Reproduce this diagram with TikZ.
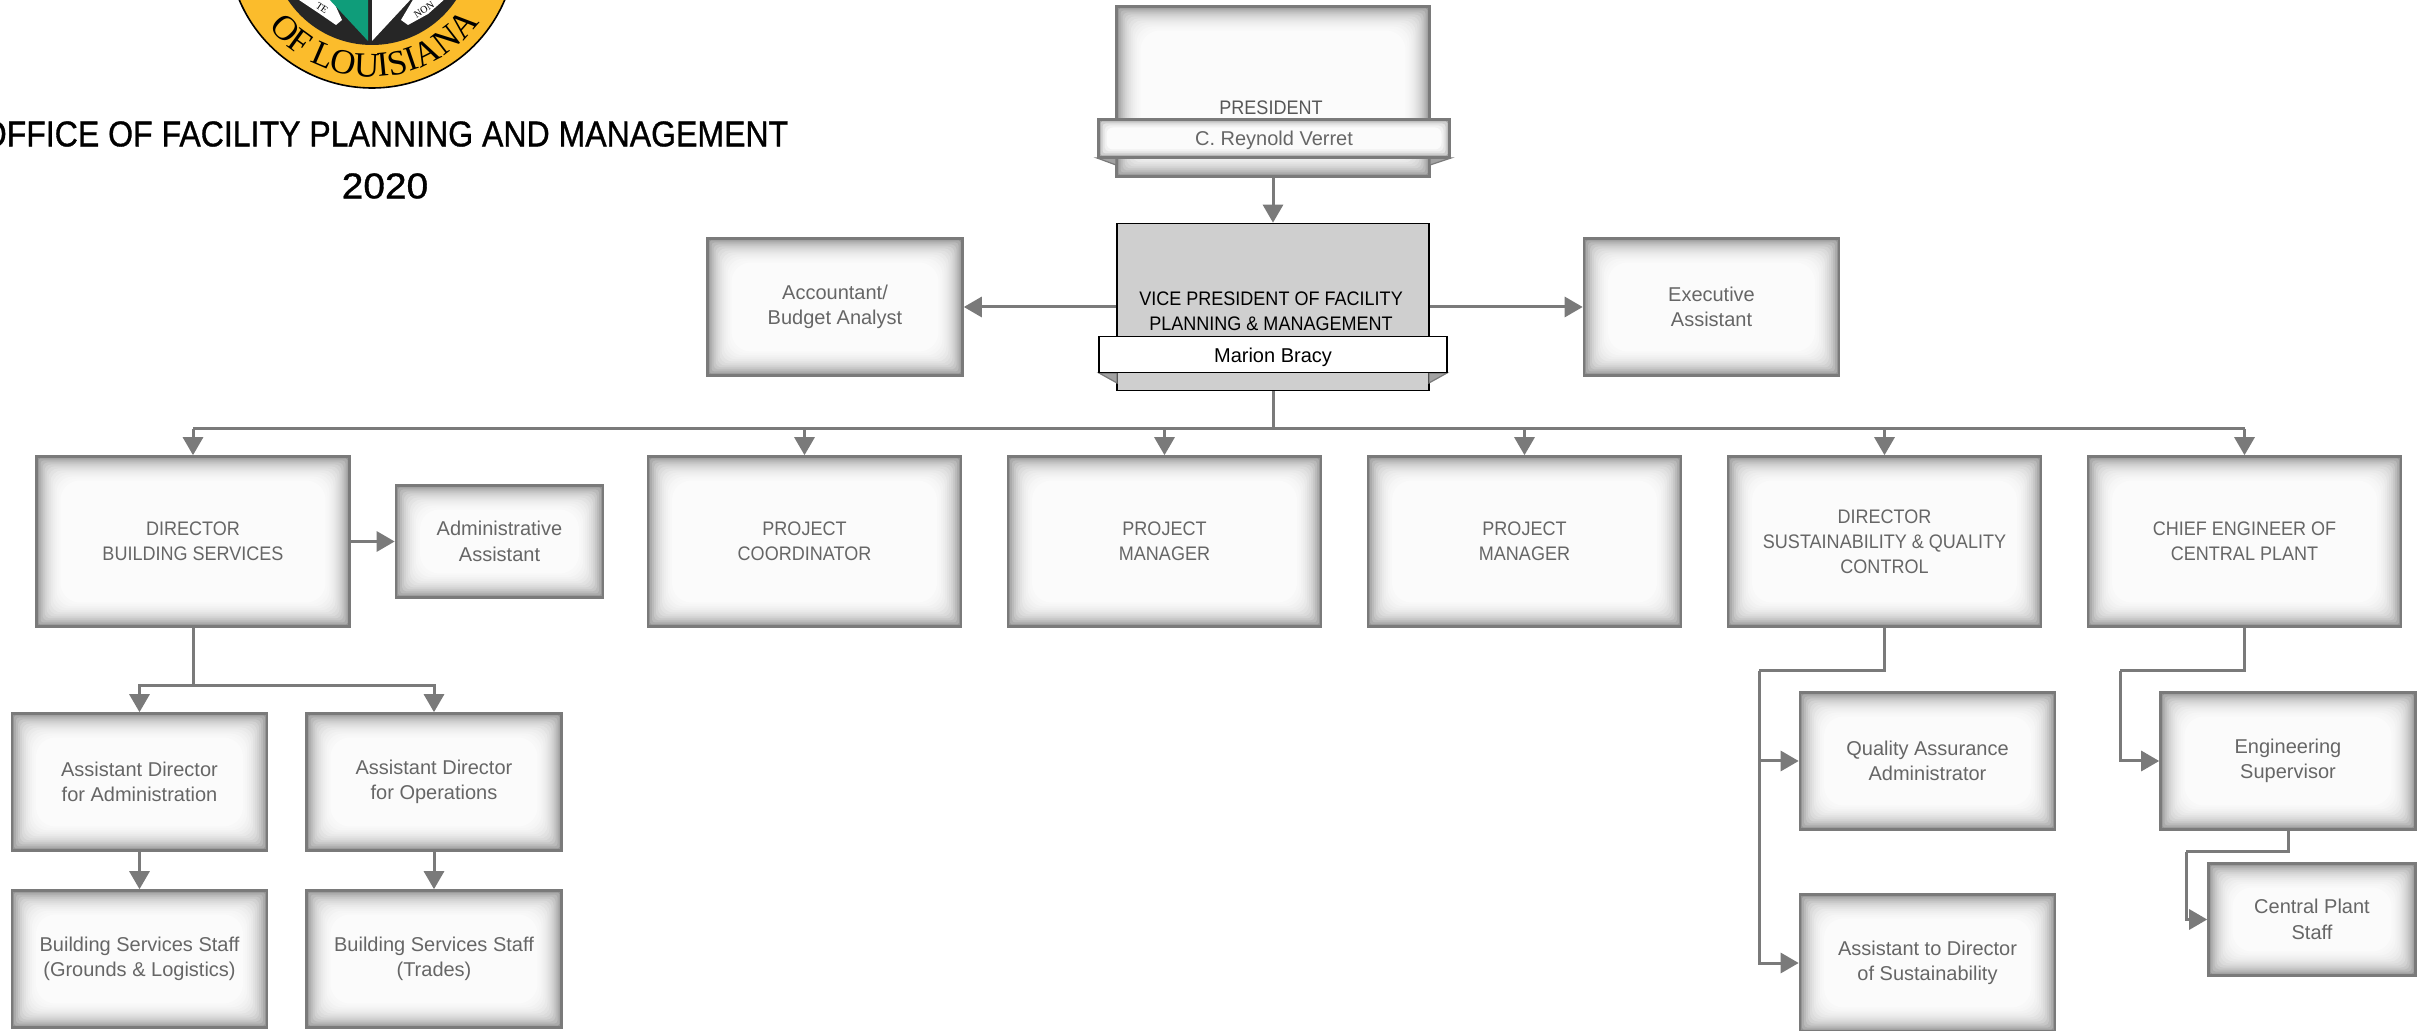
\documentclass[tikz,border=0pt]{standalone}
\usepackage{fontspec}
\usetikzlibrary{arrows.meta,decorations.text}
\setmainfont{Liberation Sans}
\newfontfamily\capsfont[FakeStretch=0.92]{Liberation Sans}
\newfontfamily\mixedfont{Liberation Sans}
\newfontfamily\titlefont[FakeStretch=0.89,FakeBold=0.9]{Liberation Sans}
\newfontfamily\yearfont[FakeStretch=1.08,FakeBold=0.9]{Liberation Sans}
\newfontfamily\sealfont{Liberation Serif}
\definecolor{boxedge}{HTML}{7A7A7A}
\definecolor{boxfill}{HTML}{FBFBFB}
\definecolor{boxtext}{HTML}{666666}
\definecolor{vpfill}{HTML}{CFCFCF}
\definecolor{sealgold}{HTML}{FBBC2C}
\definecolor{sealgreen}{HTML}{0F9D7A}
\def\boxglow{0/20,1/38,2/50,3/60,4/68,5/75,6/81,7/86,8/90,9/93,10/96,11/98,12/100}
\def\bannerglow{0/35,1/65,2/82,3/92,4/100}
\tikzset{
	wh/.style 2 args={minimum width=#1*0.5pt, minimum height=#2*0.5pt},
	glow/.style={path picture={
		\foreach \inset/\pct in #1 {
			\fill[boxfill!\pct!boxedge, rounded corners=\inset*0.8pt]
				([shift={(\inset pt,\inset pt)}]path picture bounding box.south west) rectangle
				([shift={(-\inset pt,-\inset pt)}]path picture bounding box.north east);
		}
	}},
	capstext/.style={font=\capsfont\fontsize{9.8}{12.4}\selectfont},
	mixedtext/.style={font=\mixedfont\fontsize{10}{12.8}\selectfont},
	textdrop/.style={execute at begin node={\rule{0pt}{9.4pt}}},
	orgbox/.style={draw=boxedge, line width=1.3pt, inner sep=0pt, align=center,
		mixedtext, text=boxtext, glow=\boxglow, textdrop},
	orgcaps/.style={orgbox, capstext},
	orgbanner/.style={orgbox, glow=\bannerglow},
	vpbox/.style={draw=black, line width=0.8pt, fill=vpfill, inner sep=0pt},
	vpbanner/.style={vpbox, fill=white, text=black, mixedtext, textdrop},
	label/.style={inner sep=0pt, align=center, capstext},
	fold/.style={fill=boxedge!70, draw=boxedge, line width=0.6pt},
	orgline/.style={draw=boxedge, line width=1.5pt},
	orgarrow/.style={orgline, -{Triangle[length=9pt, width=10pt]}}
}
\begin{document}
\begin{tikzpicture}[x=0.5pt, y=0.5pt]

\useasboundingbox (0,0) rectangle (2422,-1031);
\clip (0,0) rectangle (2422,-1031);

% Seal, cut off by the top edge
\fill[sealgold, draw=black, line width=0.8pt] (372,56) circle (144);
\fill[black!85] (372,56) circle (101);
\fill[white] (296,2) -- (332,2) -- (342,-20) -- (336,-25) -- (320,-14) -- cycle;
\fill[white] (446,2) -- (414,2) -- (401,-20) -- (408,-25) -- (428,-14) -- cycle;
\fill[sealgreen] (328,2) -- (368,2) -- (368,-41) -- cycle;
\fill[white] (372,2) -- (412,2) -- (372,-41) -- cycle;
\node[font=\sealfont\fontsize{5}{5}\selectfont, rotate=-35, inner sep=0pt, text=black] (sealleft) at (322,-8) {TE};
\node[font=\sealfont\fontsize{5}{5}\selectfont, rotate=32, inner sep=0pt, text=black] (sealright) at (424,-10) {NON};
\path[decorate, decoration={text along path, text align=center,
	text={|\sealfont\fontsize{17.5}{17.5}\selectfont|OF LOUISIANA}}]
	(372,56) ++(214:133) arc (214:329:133);

% Title
\node[font=\titlefont\fontsize{18}{18}\selectfont, inner sep=0pt] (title) at (385,-134) {OFFICE OF FACILITY PLANNING AND MANAGEMENT};
\node[font=\yearfont\fontsize{18}{18}\selectfont, inner sep=0pt] (year) at (385,-186) {2020};

% President
\node[orgbox, wh={313}{170}] (president) at (1273,-91.5) {};
\node[label, text=boxtext!85!black] (presidenttitle) at (1271,-108) {PRESIDENT};
\fill[fold] (1097,-158) -- (1116,-165) -- (1116,-158) -- cycle;
\fill[fold] (1451,-158) -- (1430,-165) -- (1430,-158) -- cycle;
\node[orgbanner, wh={351}{38}] (presidentname) at (1274,-138.5) {C. Reynold Verret};

% Vice president
\node[vpbox, wh={312}{167}] (vp) at (1273,-307) {};
\node[label] (vptitle) at (1271,-311) {VICE PRESIDENT OF FACILITY\\[0.1pt]PLANNING \& MANAGEMENT};
\fill[fold] (1099,-373) -- (1117,-383) -- (1117,-373) -- cycle;
\fill[fold] (1447,-373) -- (1429,-383) -- (1429,-373) -- cycle;
\node[vpbanner, wh={348}{36}] (vpname) at (1273,-354.7) {Marion Bracy};

\node[orgbox, wh={255}{137}] (accountant) at (835,-307) {Accountant/\\Budget Analyst};
\node[orgbox, wh={255}{137}] (executive) at (1711.5,-307) {Executive\\Assistant};

% Row below the vice president
\foreach \n/\x/\t in {dirbuilding/193/{DIRECTOR\\BUILDING SERVICES},
	coordinator/804.5/{PROJECT\\COORDINATOR},
	managera/1164.5/{PROJECT\\MANAGER},
	managerb/1524.5/{PROJECT\\MANAGER},
	dirsustain/1884.5/{DIRECTOR\\SUSTAINABILITY \& QUALITY\\CONTROL},
	chief/2244.5/{CHIEF ENGINEER OF\\CENTRAL PLANT}} {
	\node[orgcaps, wh={313}{170}] (\n) at (\x,-541.5) {\t};
}

\node[orgbox, wh={207}{112}] (adminasst) at (499.5,-541.5) {Administrative\\Assistant};

\node[orgbox, wh={255}{137}] (asstadmin) at (139.5,-782) {Assistant Director\\for Administration};
\node[orgbox, wh={255}{137}] (asstops) at (434,-782) {Assistant Director\\for Operations};
\node[orgbox, wh={255}{137}] (staffgrounds) at (139.5,-959) {Building Services Staff\\(Grounds \& Logistics)};
\node[orgbox, wh={255}{137}] (stafftrades) at (434,-959) {Building Services Staff\\(Trades)};

\node[orgbox, wh={255}{137}] (quality) at (1927.5,-761) {Quality Assurance\\Administrator};
\node[orgbox, wh={255}{137}] (asstsustain) at (1927.5,-963) {Assistant to Director\\of Sustainability};
\node[orgbox, wh={255}{137}] (engsuper) at (2288,-761) {Engineering\\Supervisor};
\node[orgbox, wh={207}{112}] (centralstaff) at (2312,-919.5) {Central Plant\\Staff};

% Connectors
\coordinate (bus) at (1273,-429);
\coordinate (buildingbus) at (193,-686);
\coordinate (sustainbus) at (1759,-671);
\coordinate (chiefbus) at (2120,-671);
\coordinate (engbus) at (2186,-852);

\draw[orgarrow] (president.south) -- (vp.north);
\draw[orgarrow] (vp.west) -- (accountant.east);
\draw[orgarrow] (vp.east) -- (executive.west);

\draw[orgline] (vp.south) -- (bus);
\draw[orgline] (bus -| dirbuilding.north) -- (bus -| chief.north);
\foreach \n in {dirbuilding,coordinator,managera,managerb,dirsustain,chief} {
	\draw[orgarrow] (bus -| \n.north) -- (\n.north);
}

\draw[orgarrow] (dirbuilding.east) -- (adminasst.west);
\draw[orgline] (dirbuilding.south) -- (buildingbus);
\draw[orgarrow] (buildingbus) -| (asstadmin.north);
\draw[orgarrow] (buildingbus) -| (asstops.north);
\draw[orgarrow] (asstadmin.south) -- (staffgrounds.north);
\draw[orgarrow] (asstops.south) -- (stafftrades.north);

\draw[orgline] (dirsustain.south) |- (sustainbus);
\draw[orgarrow] (sustainbus) |- (quality.west);
\draw[orgarrow] (sustainbus) |- (asstsustain.west);

\draw[orgline] (chief.south) |- (chiefbus);
\draw[orgarrow] (chiefbus) |- (engsuper.west);
\draw[orgline] (engsuper.south) |- (engbus);
\draw[orgarrow] (engbus) |- (centralstaff.west);

\end{tikzpicture}
\end{document}
